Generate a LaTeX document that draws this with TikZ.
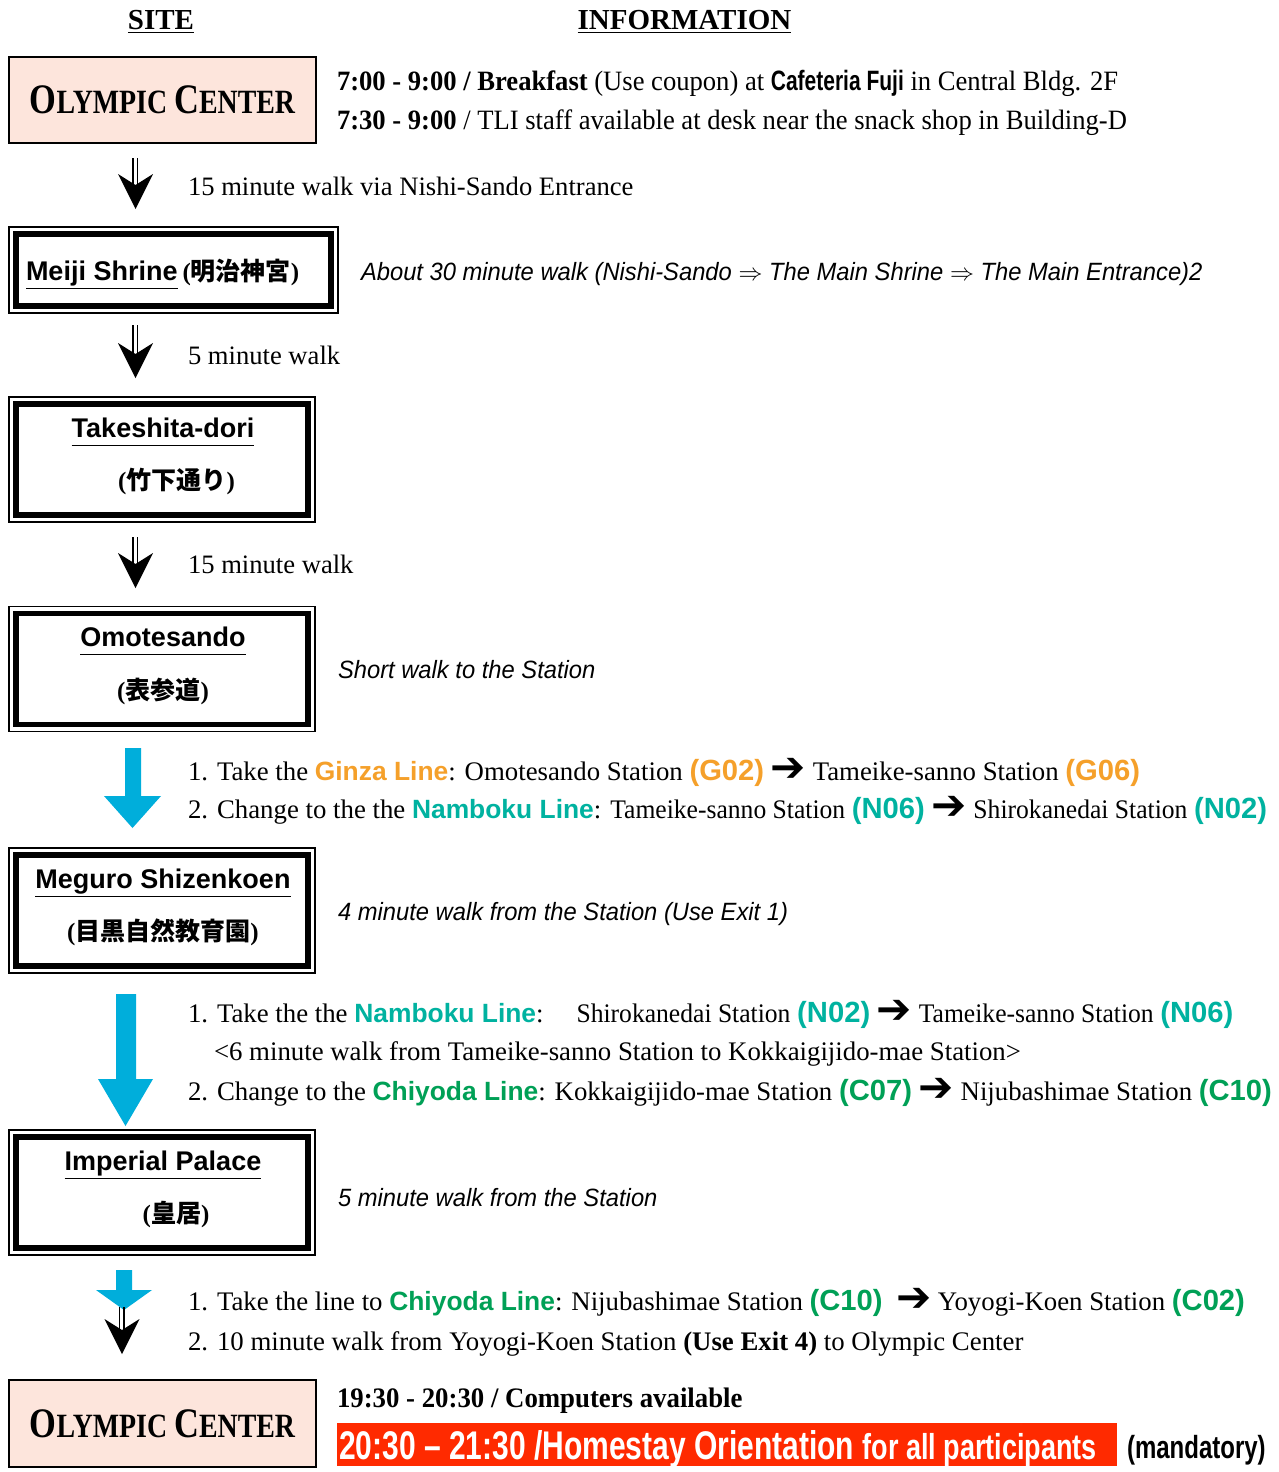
\documentclass[tikz,border=0pt]{standalone}
\usepackage{fontspec}
\setmainfont{Liberation Serif}
\setsansfont{Liberation Sans}
\newfontfamily\cjk{Noto Sans CJK JP}
\newfontfamily\symfont{DejaVu Sans}
\newfontfamily\narrowsans[FakeStretch=0.75]{Liberation Sans}
\newfontfamily\semisans[FakeStretch=0.95]{Liberation Sans}
\newfontfamily\condserif[FakeStretch=0.95]{Liberation Serif}
\newfontfamily\tightserif[FakeStretch=0.955]{Liberation Serif}
\newfontfamily\titlefont[FakeStretch=0.82]{Liberation Serif}
\definecolor{boxpink}{HTML}{FDE5DC}
\definecolor{arrowblue}{HTML}{00AEDB}
\definecolor{ginza}{HTML}{F5A02A}
\definecolor{namboku}{HTML}{00B2A0}
\definecolor{chiyoda}{HTML}{00A056}
\definecolor{alertred}{HTML}{FF2A00}
\newcommand{\linename}[2]{{\sffamily\bfseries\fontsize{13.2}{16}\selectfont\color{#1}#2}}
\newcommand{\stcode}[2]{{\sffamily\bfseries\fontsize{14.6}{17}\selectfont\color{#1}#2}}
\newcommand{\goarrow}{\raisebox{-0.5pt}{\symfont\bfseries\fontsize{21}{21}\selectfont ➔}}
\newcommand{\tight}[1]{{\tightserif #1}}
\newcommand{\titleul}[1]{{\sffamily\bfseries\fontsize{13.5}{16}\selectfont\underline{#1\vphantom{p}}}}
\newcommand{\olympic}{{\titlefont\bfseries\fontsize{21}{24}\selectfont O\fontsize{17}{20}\selectfont LYMPIC \fontsize{21}{24}\selectfont C\fontsize{17}{20}\selectfont ENTER}}
\newcommand{\walkarrow}[3]{%
  \draw[walkshaft] (#1-2.5,#2) -- (#1-2.5,#3-22);
  \draw[walkshaft] (#1+2,#2) -- (#1+2,#3-22);
  \fill (#1,#3) -- (#1-17.5,#3-35) -- (#1,#3-24) -- (#1+17.5,#3-35) -- cycle;}
\begin{document}
\begin{tikzpicture}[x=0.5pt,y=-0.5pt,
  txt/.style={anchor=base west, inner sep=0pt, outer sep=0pt},
  ctxt/.style={anchor=base, inner sep=0pt, outer sep=0pt},
  pinkbox/.style={draw, line width=1.25pt, fill=boxpink, inner sep=0pt, outer sep=0pt, minimum width=153.5pt, minimum height=43pt},
  sitebox/.style={draw, line width=0.75pt, inner sep=0pt, outer sep=0pt, minimum width=153pt, minimum height=62.5pt},
  innerframe/.style={line width=2.75pt},
  walkshaft/.style={line width=0.7pt},
  bodytext/.style={txt, font=\fontsize{13.3}{16}\selectfont},
  routetext/.style={txt, font=\fontsize{13.4}{16}\selectfont},
  notetext/.style={txt, font=\semisans\itshape\fontsize{12.5}{15}\selectfont},
  cjktext/.style={ctxt, font=\bfseries\fontsize{12.5}{15}\selectfont},
]
\useasboundingbox (0,0) rectangle (1279,1472);
\fill[white] (0,0) rectangle (1279,1472);

% headers
\node[ctxt] (sitehdr) at (161,29) {\bfseries\fontsize{14.5}{17}\selectfont\underline{SITE}};
\node[ctxt] (infohdr) at (684.5,29) {\bfseries\fontsize{14.5}{17}\selectfont\underline{INFORMATION}};

% Olympic Center (top)
\node[pinkbox] (oc1) at (162.5,100) {\olympic};
\node[txt, font=\condserif\fontsize{14}{16}\selectfont] (info1) at (337,90) {{\bfseries 7:00 - 9:00 / Breakfast} (Use coupon) at {\narrowsans\bfseries Cafeteria Fuji} in Central Bldg. 2F};
\node[txt, font=\condserif\fontsize{14}{16}\selectfont] (info2) at (337,129) {{\bfseries 7:30 - 9:00} / TLI staff available at desk near the snack shop in Building-D};

% arrow 1
\walkarrow{135.5}{158}{209}
\node[bodytext] (walk1) at (188,195) {15 minute walk via Nishi-Sando Entrance};

% Meiji Shrine
\node[sitebox, minimum width=164.5pt, minimum height=43pt] (meiji) at (173.5,270) {};
\draw[innerframe] ([shift={(7,7)}]meiji.north west) rectangle ([shift={(-7,-7)}]meiji.south east);
\node[txt] (meijit) at (26,280) {\titleul{Meiji Shrine} {\bfseries\fontsize{12.5}{15}\selectfont({\cjk\bfseries 明治神宮})}};
\node[notetext] (note1) at (361,280) {About 30 minute walk (Nishi-Sando $\Rightarrow$ The Main Shrine $\Rightarrow$ The Main Entrance)2};

% arrow 2
\walkarrow{135.5}{325}{378}
\node[bodytext] (walk2) at (188,364) {5 minute walk};

% Takeshita-dori
\node[sitebox] (take) at (162,459.5) {};
\draw[innerframe] ([shift={(7,7)}]take.north west) rectangle ([shift={(-7,-7)}]take.south east);
\node[ctxt] (taket) at (163,437) {\titleul{Takeshita-dori}};
\node[cjktext] (takej) at (176.5,489) {({\cjk\bfseries 竹下通り})};

% arrow 3
\walkarrow{135.5}{537}{588}
\node[bodytext] (walk3) at (188,573) {15 minute walk};

% Omotesando
\node[sitebox] (omote) at (162,669) {};
\draw[innerframe] ([shift={(7,7)}]omote.north west) rectangle ([shift={(-7,-7)}]omote.south east);
\node[ctxt] (omotet) at (163,646) {\titleul{Omotesando}};
\node[cjktext] (omotej) at (163,699) {({\cjk\bfseries 表参道})};
\node[notetext] (note2) at (338,678) {Short walk to the Station};

% blue arrow 1
\fill[arrowblue] (125,748) -- (141,748) -- (141,796) -- (161,796) -- (132.5,828) -- (104,796) -- (125,796) -- cycle;
\node[routetext] (r1a) at (188,780) {1. Take the \linename{ginza}{Ginza Line}: Omotesando Station \stcode{ginza}{(G02)} \goarrow{} Tameike-sanno Station \stcode{ginza}{(G06)}};
\node[routetext] (r1b) at (188,818) {2. Change to the the \linename{namboku}{Namboku Line}: \tight{Tameike-sanno Station} \stcode{namboku}{(N06)} \goarrow{} \tight{Shirokanedai Station} \stcode{namboku}{(N02)}};

% Meguro
\node[sitebox] (meguro) at (162,910.5) {};
\draw[innerframe] ([shift={(7,7)}]meguro.north west) rectangle ([shift={(-7,-7)}]meguro.south east);
\node[ctxt] (megurot) at (163,888) {\titleul{Meguro Shizenkoen}};
\node[cjktext] (meguroj) at (163,940) {({\cjk\bfseries 目黒自然教育園})};
\node[notetext] (note3) at (338,920) {4 minute walk from the Station (Use Exit 1)};

% blue arrow 2
\fill[arrowblue] (116,994) -- (136,994) -- (136,1079) -- (153,1079) -- (125.5,1126) -- (98,1079) -- (116,1079) -- cycle;
\node[routetext] (r2a) at (188,1022) {1. Take the the \linename{namboku}{Namboku Line}:\hspace{12pt} \tight{Shirokanedai Station} \stcode{namboku}{(N02)} \goarrow{} \tight{Tameike-sanno Station} \stcode{namboku}{(N06)}};
\node[routetext] (r2b) at (214,1060) {<6 minute walk from Tameike-sanno Station to Kokkaigijido-mae Station>};
\node[routetext] (r2c) at (188,1100) {2. Change to the \linename{chiyoda}{Chiyoda Line}: Kokkaigijido-mae Station \stcode{chiyoda}{(C07)} \goarrow{} Nijubashimae Station \stcode{chiyoda}{(C10)}};

% Imperial Palace
\node[sitebox] (palace) at (162,1192.5) {};
\draw[innerframe] ([shift={(7,7)}]palace.north west) rectangle ([shift={(-7,-7)}]palace.south east);
\node[ctxt] (palacet) at (163,1170) {\titleul{Imperial Palace}};
\node[cjktext] (palacej) at (176,1222) {({\cjk\bfseries 皇居})};
\node[notetext] (note4) at (338,1206) {5 minute walk from the Station};

% combined arrow
\fill[arrowblue] (116,1270) -- (132,1270) -- (132,1290) -- (152,1290) -- (124,1310) -- (96,1290) -- (116,1290) -- cycle;
\walkarrow{122}{1307}{1354}
\node[routetext] (r3a) at (188,1310) {1. Take the line to \linename{chiyoda}{Chiyoda Line}: Nijubashimae Station \stcode{chiyoda}{(C10)} \ \goarrow{} Yoyogi-Koen Station \stcode{chiyoda}{(C02)}};
\node[routetext] (r3b) at (188,1350) {2. 10 minute walk from Yoyogi-Koen Station {\bfseries (Use Exit 4)} to Olympic Center};

% Olympic Center (bottom)
\node[pinkbox, minimum height=43.5pt] (oc2) at (162.5,1423.5) {\olympic};
\node[txt, font=\condserif\bfseries\fontsize{14.1}{17}\selectfont] (comp) at (337,1407) {19:30 - 20:30 / Computers available};
\fill[alertred] (337,1423) rectangle (1117,1466);
\node[txt, font=\narrowsans\bfseries, text=white] (orient) at (339,1459) {\fontsize{20}{22}\selectfont 20:30 – 21:30 /Homestay Orientation \fontsize{18}{20}\selectfont for all participants};
\node[txt, font=\narrowsans\bfseries\fontsize{16}{18}\selectfont] (mand) at (1127,1458) {(mandatory)};
\end{tikzpicture}
\end{document}
